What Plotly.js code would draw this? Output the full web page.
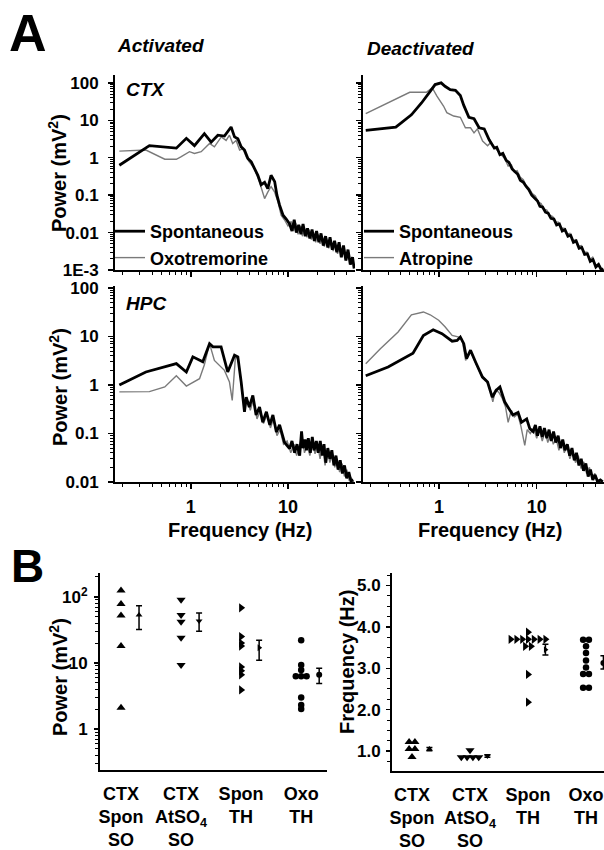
<!DOCTYPE html>
<html><head><meta charset="utf-8">
<script src="https://cdn.plot.ly/plotly-3.0.1.min.js"></script>
<style>html,body{margin:0;padding:0;background:#fff}#chart{width:604px;height:850px}</style>
</head><body><div id="chart"></div>
<script>
// ===== Panel A: power spectra (frequency in Hz, power in mV^2) =====
// CTX, activated
const fCtxActSpon = [0.184,0.375,0.71,0.90,1.09,1.38,1.62,1.90,2.22,2.6,2.82,3.05,3.3,3.57,3.87,4.19,4.53,4.9,5.3,5.75,6.2,6.7,7.3,7.7,8.2,8.9,9.6,10.4,11.0,11.6,12.2,12.9,13.6,14.3,15.1,15.9,16.8,17.7,18.7,19.7,20.8,21.9,23.1,24.4,25.7,27.1,28.6,30.2,31.8,33.6,35.4,37.3,39.4,41.5,43.8,46.2,48];
const pCtxActSpon = [0.63,2.1,1.8,3.3,2.1,4.4,2.6,4.0,3.8,6.6,3.6,3.2,1.95,1.6,0.95,0.78,0.51,0.34,0.19,0.22,0.15,0.34,0.23,0.1,0.054,0.029,0.023,0.017,0.011,0.022,0.010,0.016,0.009,0.017,0.008,0.013,0.007,0.012,0.006,0.011,0.0055,0.0095,0.0045,0.008,0.004,0.0075,0.0035,0.006,0.003,0.0055,0.0022,0.0045,0.0018,0.0035,0.0014,0.0022,0.0011];
const fCtxActOxo = [0.184,0.345,0.54,0.71,0.79,0.97,1.09,1.28,1.56,1.75,2.06,2.31,2.5,2.7,2.93,3.18,3.44,3.72,4.0,4.53,5.1,5.75,6.2,6.7,7.3,7.9,8.5,9.2,10.0,10.8,11.4,12.0,12.7,13.4,14.1,14.9,15.7,16.5,17.4,18.3,19.3,20.3,21.4,22.5,23.7,25.0,26.3,27.7,29.2,30.8,32.4,34.2,36.0,37.9,40.0,42.1,44.3,46.7,48];
const pCtxActOxo = [1.5,1.6,0.91,0.91,1.05,1.45,1.3,1.45,2.4,1.95,3.6,2.9,4.0,2.4,2.9,1.6,1.75,1.05,0.77,0.51,0.22,0.081,0.12,0.17,0.12,0.066,0.029,0.022,0.015,0.02,0.011,0.018,0.009,0.015,0.008,0.013,0.0075,0.012,0.0065,0.010,0.0055,0.009,0.005,0.008,0.0042,0.007,0.0038,0.0062,0.0032,0.0052,0.0027,0.0045,0.0022,0.0038,0.0018,0.003,0.0014,0.0019,0.0011];
// CTX, deactivated
const fCtxDeaSpon = [0.177,0.36,0.52,0.66,0.81,0.91,1.05,1.15,1.30,1.47,1.65,1.79,2.02,2.28,2.57,2.9,3.26,3.68,3.9,4.2,4.5,4.87,5.2,5.6,6.0,6.4,6.8,7.3,7.8,8.3,8.9,9.5,10.2,10.8,11.5,12.3,13.1,14.0,15.0,16.0,17.1,18.3,19.5,20.9,22.3,23.8,25.4,27.2,29.0,31.0,33.1,35.4,37.8,40.4,43.1,46.0,48];
const pCtxDeaSpon = [5.4,6.6,14,29,59,90,100,81,66,63,46,25,12,11,6.3,5.9,3.0,1.8,1.9,1.2,1.3,0.85,0.75,0.5,0.42,0.36,0.25,0.22,0.17,0.14,0.1,0.085,0.07,0.05,0.048,0.035,0.033,0.024,0.023,0.016,0.017,0.011,0.012,0.008,0.0085,0.0055,0.006,0.0038,0.004,0.0026,0.0027,0.0017,0.0019,0.0012,0.0014,0.001,0.0011];
const fCtxDeaAtr = [0.177,0.30,0.50,0.74,0.85,0.95,1.11,1.2,1.41,1.65,1.86,2.1,2.28,2.47,2.79,3.14,3.4,3.7,4.0,4.3,4.7,5.1,5.5,5.9,6.3,6.8,7.3,7.8,8.4,9.0,9.7,10.4,11.1,11.9,12.7,13.6,14.6,15.6,16.7,17.9,19.1,20.5,21.9,23.4,25.0,26.8,28.7,30.7,32.8,35.1,37.5,40.1,42.9,45.9,48];
const pCtxDeaAtr = [15,29,56,56,74,44,24,16,13,12,6.3,6.3,4.6,5.9,2.8,2.1,2.6,1.9,1.5,1.2,0.95,0.6,0.65,0.42,0.45,0.3,0.26,0.18,0.15,0.11,0.095,0.065,0.06,0.042,0.04,0.029,0.027,0.019,0.019,0.013,0.013,0.009,0.0095,0.006,0.0065,0.0043,0.0045,0.003,0.003,0.0019,0.0022,0.0013,0.0015,0.001,0.0011];
// HPC, activated
const fHpcActSpon = [0.184,0.345,0.71,0.90,1.05,1.33,1.56,1.69,2.05,2.4,2.82,3.05,3.3,3.57,3.72,4.0,4.35,4.7,5.1,5.5,6.0,6.5,7.0,7.6,8.2,9.2,10.4,11.0,11.7,12.4,13.2,13.8,14.3,15.0,15.5,16.2,17.0,17.8,18.6,19.6,20.5,21.5,22.5,23.5,24.5,25.7,27.0,28.3,29.7,31.2,32.8,34.5,36.3,38.2,40.2,42.3,44.5,47];
const pHpcActSpon = [1.0,1.85,2.75,1.85,3.8,3.0,7.1,6.1,6.1,1.85,4.1,3.8,1.15,0.28,0.56,0.35,0.61,0.24,0.35,0.17,0.28,0.15,0.24,0.107,0.15,0.066,0.049,0.07,0.04,0.06,0.035,0.11,0.05,0.075,0.045,0.08,0.04,0.085,0.045,0.07,0.04,0.07,0.035,0.06,0.025,0.05,0.03,0.045,0.022,0.035,0.018,0.028,0.015,0.022,0.012,0.016,0.0105,0.011];
const fHpcActOxo = [0.184,0.375,0.54,0.71,0.90,1.23,1.38,1.56,1.75,2.22,2.5,2.67,2.89,3.1,3.4,3.57,3.8,4.1,4.4,4.8,5.2,5.6,6.1,6.6,7.1,7.7,8.3,9.0,9.8,10.7,11.5,12.3,13.0,13.9,14.8,15.8,16.8,17.9,19.0,20.2,21.4,22.7,24.1,25.5,27.0,28.6,30.3,32.1,34.0,36.0,38.1,40.3,42.6,45,47.5];
const pHpcActOxo = [0.72,0.73,0.91,1.55,0.95,1.35,2.6,7.1,3.2,2.0,1.15,0.48,4.1,3.0,0.72,0.32,0.5,0.3,0.5,0.2,0.3,0.16,0.25,0.13,0.2,0.09,0.12,0.06,0.07,0.04,0.06,0.035,0.05,0.09,0.04,0.06,0.035,0.065,0.038,0.06,0.03,0.055,0.022,0.045,0.025,0.04,0.02,0.03,0.016,0.024,0.013,0.018,0.011,0.012,0.0102];
// HPC, deactivated
const fHpcDeaSpon = [0.177,0.30,0.54,0.69,0.87,1.07,1.36,1.53,1.65,1.79,1.91,2.1,2.37,2.78,3.14,3.5,3.83,4.2,4.7,5.26,5.7,6.45,6.98,7.9,8.5,9.2,9.7,10.2,10.8,11.4,12.0,12.7,13.4,14.1,14.9,15.7,16.6,17.5,18.5,19.5,20.6,21.8,23.0,24.3,25.6,27.1,28.6,30.2,31.9,33.7,35.6,37.6,39.7,42,45,47.5];
const pHpcDeaSpon = [1.55,2.35,4.5,10.5,13.7,11.4,8.0,8.3,9.7,7.1,3.5,5.2,2.95,1.45,1.15,0.56,0.77,0.91,0.45,0.3,0.24,0.27,0.17,0.2,0.126,0.11,0.15,0.09,0.14,0.085,0.13,0.08,0.12,0.07,0.11,0.065,0.09,0.05,0.075,0.045,0.06,0.035,0.05,0.028,0.04,0.022,0.03,0.017,0.024,0.013,0.018,0.011,0.014,0.0102,0.011,0.0101];
const fHpcDeaAtr = [0.177,0.25,0.38,0.52,0.69,0.81,0.99,1.15,1.36,1.6,1.72,1.87,2.1,2.37,2.7,3.0,3.3,3.55,3.8,4.1,4.4,4.8,5.1,5.5,5.9,6.4,6.9,7.55,8.0,8.6,9.3,10.0,10.7,11.4,12.2,13.0,13.9,14.8,15.8,16.9,18.0,19.2,20.5,21.9,23.4,25.0,26.7,28.5,30.4,32.5,34.7,37.0,39.5,42.2,45,47.5];
const pHpcDeaAtr = [2.75,5.6,12.4,28,32,28,21.6,15.8,10.5,9.7,8.7,3.2,4.8,2.75,1.6,1.3,0.9,0.45,0.8,0.7,0.55,0.35,0.17,0.3,0.22,0.25,0.14,0.057,0.12,0.1,0.13,0.08,0.12,0.07,0.11,0.065,0.1,0.06,0.08,0.045,0.07,0.04,0.055,0.03,0.045,0.025,0.035,0.019,0.026,0.015,0.02,0.012,0.015,0.0103,0.011,0.0101];

// ===== Panel B =====
const groups = ['CTX<br>Spon<br>SO', 'CTX<br>AtSO<sub>4</sub><br>SO', 'Spon<br>TH', 'Oxo<br>TH'];
// Peak power (mV^2)
const powCtxSpon = [125, 78, 52, 18, 2.1];
const powCtxAt   = [90, 53, 42, 24, 9.3];
const powSponTH  = [68, 25, 20, 18, 8.7, 7.6, 6.6, 3.9];
const powOxoTH   = [22, 9.3, 7.8, 6.3, 6.3, 6.3, 3.0, 2.3, 2.0];
const powMean = [53, 43, 17, 6.6];
const powHi   = [73, 57, 22, 8.3];
const powLo   = [32, 30, 11, 4.9];
// Peak frequency (Hz)
const frqCtxSpon = [1.22, 1.22, 1.05, 1.05, 0.86];
const frqCtxAt   = [1.02, 0.85, 0.85, 0.85, 0.85];
const frqSponTH  = [3.87, 3.70, 3.70, 3.70, 3.70, 3.70, 3.70, 3.70, 3.53, 3.53, 2.85, 2.18];
const frqOxoTH   = [3.69, 3.69, 3.53, 3.37, 3.19, 3.02, 2.86, 2.86, 2.53, 2.53];
const frqMean = [1.05, 0.88, 3.45, 3.13];
const frqHi   = [1.09, 0.91, 3.58, 3.30];
const frqLo   = [1.01, 0.85, 3.32, 2.98];

// ===== helpers =====
const W = 604, H = 850;
const FONT = 'Liberation Sans, Arial, sans-serif';
const px = x => x / W, py = y => 1 - y / H;
function minorLog(lo, hi){ const v=[]; for(let d=lo; d<hi; d++) for(let k=2;k<=9;k++) v.push(k*Math.pow(10,d)); return v; }
function swarm(vals, center, step){
  const counts = {}, seen = {};
  vals.forEach(v => counts[v] = (counts[v]||0)+1);
  return vals.map(v => { const n=counts[v]; const i=(seen[v]=(seen[v]||0)+1)-1; return center + (i-(n-1)/2)*step; });
}
const BLACK = '#000', GREY = '#7a7a7a';
const tickFont = {family: FONT, size: 17, color: '#000', weight: 'bold'};

const axBase = {showline:true, linecolor:'#000', linewidth:2, ticks:'outside', tickcolor:'#000', tickwidth:1.5, ticklen:5,
  showgrid:false, zeroline:false, tickfont:tickFont, fixedrange:true, mirror:false};

function freqAxis(dom, anchor, labels){
  return Object.assign({}, axBase, {domain:dom, anchor:anchor, type:'log', range:[-0.78, 1.69],
    tickmode:'array', tickvals:[1,10], ticktext:['1','10'], showticklabels:labels, ticklabelstandoff:2,
    tickfont:Object.assign({}, tickFont, {size:18}),
    minor:{tickmode:'array', tickvals:minorLog(-1,2), ticks:'outside', ticklen:3, tickcolor:'#000', tickwidth:1}});
}
function powAxis(dom, anchor, range, vals, text, labels){
  return Object.assign({}, axBase, {domain:dom, anchor:anchor, type:'log', range:range,
    tickmode:'array', tickvals:vals, ticktext:text, showticklabels:labels, ticklabelstandoff:6,
    minor:{tickmode:'array', tickvals:minorLog(Math.floor(range[0]), Math.ceil(range[1])), ticks:'outside', ticklen:3, tickcolor:'#000', tickwidth:1}});
}

const xL = [px(115), px(355)], xR = [px(363), px(604)];
const yT = [py(270), py(75)], yB = [py(482), py(286)];

function spec(f, p, color, width, xa, ya, name, legend, show, rank){
  return {type:'scatter', mode:'lines', x:f, y:p, xaxis:xa, yaxis:ya, name:name, legend:legend,
    showlegend:show, legendrank:rank, line:{color:color, width:width}, hoverinfo:'skip'};
}

const traces = [
  spec(fCtxActOxo, pCtxActOxo, GREY, 1.4, 'x', 'y', 'Oxotremorine', 'legend', true, 2),
  spec(fCtxActSpon, pCtxActSpon, BLACK, 2.8, 'x', 'y', 'Spontaneous', 'legend', true, 1),
  spec(fCtxDeaAtr, pCtxDeaAtr, GREY, 1.4, 'x2', 'y2', 'Atropine', 'legend2', true, 2),
  spec(fCtxDeaSpon, pCtxDeaSpon, BLACK, 2.8, 'x2', 'y2', 'Spontaneous', 'legend2', true, 1),
  spec(fHpcActOxo, pHpcActOxo, GREY, 1.4, 'x3', 'y3', 'Oxotremorine', 'legend', false, 2),
  spec(fHpcActSpon, pHpcActSpon, BLACK, 2.8, 'x3', 'y3', 'Spontaneous', 'legend', false, 1),
  spec(fHpcDeaAtr, pHpcDeaAtr, GREY, 1.4, 'x4', 'y4', 'Atropine', 'legend2', false, 2),
  spec(fHpcDeaSpon, pHpcDeaSpon, BLACK, 2.8, 'x4', 'y4', 'Spontaneous', 'legend2', false, 1)
];

const symbols = ['triangle-up', 'triangle-down', 'triangle-right', 'circle'];
const symSizes = [8, 8, 8, 6.5];
const MEAN_OFF = 0.3;
function groupPts(vals, i, xa, ya, step){
  return {type:'scatter', mode:'markers', x:swarm(vals, i+1, step), y:vals, xaxis:xa, yaxis:ya, showlegend:false,
    marker:{symbol:symbols[i], size:symSizes[i], color:'#000'}, hoverinfo:'skip'};
}
function meanPts(mean, hi, lo, xa, ya){
  return {type:'scatter', mode:'markers', x:mean.map((_,i)=>i+1+MEAN_OFF), y:mean, xaxis:xa, yaxis:ya, showlegend:false,
    marker:{symbol:symbols, size:6, color:'#000'}, hoverinfo:'skip',
    error_y:{type:'data', symmetric:false, array:hi.map((h,i)=>h-mean[i]), arrayminus:lo.map((l,i)=>mean[i]-l),
      color:'#000', thickness:1.5, width:3}};
}
[powCtxSpon, powCtxAt, powSponTH, powOxoTH].forEach((v,i)=>traces.push(groupPts(v, i, 'x5', 'y5', 0.09)));
traces.push(meanPts(powMean, powHi, powLo, 'x5', 'y5'));
[frqCtxSpon, frqCtxAt, frqSponTH, frqOxoTH].forEach((v,i)=>traces.push(groupPts(v, i, 'x6', 'y6', 0.1)));
traces.push(meanPts(frqMean, frqHi, frqLo, 'x6', 'y6'));

function ann(text, x, y, size, extra){
  return Object.assign({text:text, x:px(x), y:py(y), xref:'paper', yref:'paper', xanchor:'center', yanchor:'middle',
    showarrow:false, font:{family:FONT, size:size, color:'#000', weight:'bold'}}, extra||{});
}
const ital = s => ({font:{family:FONT, size:s, color:'#000', weight:'bold', style:'italic'}});

const catAxis = (dom, anchor, range) => Object.assign({}, axBase, {domain:dom, anchor:anchor, range:range,
  tickmode:'array', tickvals:[1,2,3,4], ticktext:groups, ticks:'', ticklabelstandoff:6,
  tickfont:Object.assign({}, tickFont, {size:18})});

const legFont = {family:FONT, size:18, color:'#000', weight:'bold'};
const layout = {
  width:W, height:H, margin:{l:0, r:0, t:0, b:0}, paper_bgcolor:'#fff', plot_bgcolor:'rgba(0,0,0,0)',
  font:{family:FONT, color:'#000'},
  xaxis: freqAxis(xL, 'y', false),
  yaxis: powAxis(yT, 'x', [-3, 2.21], [0.001,0.01,0.1,1,10,100], ['1E-3','0.01','0.1','1','10','100'], true),
  xaxis2: freqAxis(xR, 'y2', false),
  yaxis2: powAxis(yT, 'x2', [-3, 2.21], [0.001,0.01,0.1,1,10,100], ['1E-3','0.01','0.1','1','10','100'], false),
  xaxis3: freqAxis(xL, 'y3', true),
  yaxis3: powAxis(yB, 'x3', [-2, 2.04], [0.01,0.1,1,10,100], ['0.01','0.1','1','10','100'], true),
  xaxis4: freqAxis(xR, 'y4', true),
  yaxis4: powAxis(yB, 'x4', [-2, 2.04], [0.01,0.1,1,10,100], ['0.01','0.1','1','10','100'], false),
  xaxis5: catAxis([px(100), px(327)], 'y5', [0.65, 4.43]),
  yaxis5: Object.assign(powAxis([py(770), py(573)], 'x5', [-0.62, 2.36], [1,10,100], ['1','10','10<sup>2</sup>'], true), {ticklen:4, ticklabelstandoff:3}),
  xaxis6: catAxis([px(392), 1], 'y6', [0.655, 4.31]),
  yaxis6: Object.assign({}, axBase, {domain:[py(771), py(573)], anchor:'x6', range:[0.52, 5.3], tickmode:'array',
    tickvals:[1,2,3,4,5], ticktext:['1.0','2.0','3.0','4.0','5.0'], ticklen:4, ticklabelstandoff:2,
    minor:{dtick:0.25, tick0:0, ticks:'outside', ticklen:3, tickcolor:'#000', tickwidth:1}}),
  legend: {x:px(110), y:py(213), xanchor:'left', yanchor:'top', bgcolor:'rgba(0,0,0,0)', borderwidth:0,
    font:legFont, itemwidth:30, tracegroupgap:0},
  legend2: {x:px(359), y:py(213), xanchor:'left', yanchor:'top', bgcolor:'rgba(0,0,0,0)', borderwidth:0,
    font:legFont, itemwidth:30, tracegroupgap:0},
  annotations: [
    ann('A', 28, 33, 52),
    ann('B', 27, 566, 46),
    ann('Activated', 160, 46, 19, ital(19)),
    ann('Deactivated', 421, 49, 19, ital(19)),
    ann('CTX', 145, 89, 19, ital(19)),
    ann('HPC', 146, 303, 19, ital(19)),
    ann('Power (mV<sup>2</sup>)', 58, 173, 20, {textangle:-90}),
    ann('Power (mV<sup>2</sup>)', 58, 387, 20, {textangle:-90}),
    ann('Frequency (Hz)', 240, 530, 20),
    ann('Frequency (Hz)', 490, 530, 20),
    ann('Power (mV<sup>2</sup>)', 58, 677, 20, {textangle:-90}),
    ann('Frequency (Hz)', 347, 662, 20, {textangle:-90})
  ]
};

Plotly.newPlot('chart', traces, layout, {staticPlot:true, displayModeBar:false});
</script></body></html>
